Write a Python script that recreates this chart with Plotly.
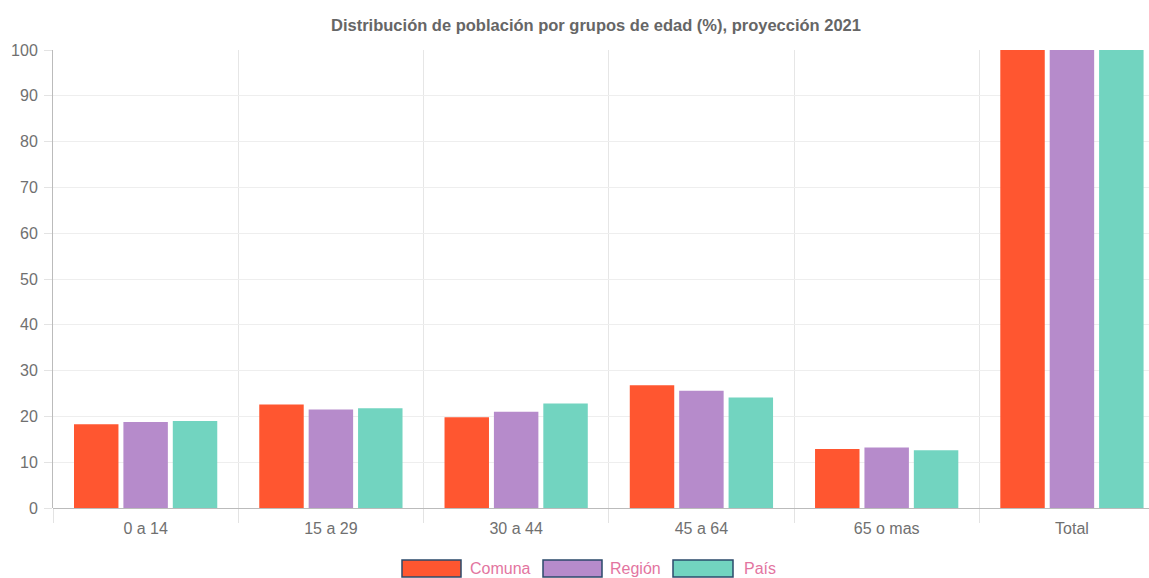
import plotly.graph_objects as go

categories = ["0 a 14", "15 a 29", "30 a 44", "45 a 64", "65 o mas", "Total"]
comuna = [18.3, 22.6, 19.8, 26.8, 12.9, 100]
region = [18.8, 21.5, 21.0, 25.6, 13.2, 100]
pais = [19.0, 21.8, 22.8, 24.1, 12.6, 100]
series_names = ["Comuna", "Región", "País"]
series_colors = ["#FF5630", "#B68BCB", "#72D4C0"]
title_text = "Distribución de población por grupos de edad (%), proyección 2021"
y_ticks = [0, 10, 20, 30, 40, 50, 60, 70, 80, 90, 100]

font_family = "Liberation Sans, Arial, sans-serif"
W, H = 1149, 578
L, T, B = 53, 50, 70
PW, PH = W - L, H - T - B

fig = go.Figure()
for name, vals, col in zip(series_names, [comuna, region, pais], series_colors):
    fig.add_trace(go.Bar(x=categories, y=vals, name=name, marker_color=col,
                         marker_line_width=0, showlegend=False))

# custom legend (wide boxes like the reference)
legend_items = [(402, 461, 468), (543, 602, 608), (673, 733, 742)]
for (x0, x1, tx), name, col in zip(legend_items, series_names, series_colors):
    fig.add_shape(type="rect", xref="paper", yref="paper",
                  x0=(x0 - L) / PW, x1=(x1 - L) / PW,
                  y0=(H - B - 577) / PH, y1=(H - B - 560) / PH,
                  fillcolor=col, line=dict(color="#2B4A6B", width=1.5))
    fig.add_annotation(xref="paper", yref="paper", x=(tx - L) / PW,
                       y=(H - B - 568) / PH, text=name, showarrow=False,
                       xanchor="left", yanchor="middle",
                       font=dict(family=font_family, size=16, color="#E3759F"))

fig.update_layout(
    width=W, height=H,
    margin=dict(l=L, r=0, t=T, b=B, pad=0),
    paper_bgcolor="white", plot_bgcolor="white",
    barmode="group", bargap=0.2, bargroupgap=0.1,
    title=dict(text="<b>" + title_text + "</b>", x=596 / W, xanchor="center",
               y=1 - 25 / H, yanchor="middle",
               font=dict(family=font_family, size=16.5, color="#666666")),
    font=dict(family=font_family, size=16, color="#666666"),
)
fig.update_xaxes(range=[-0.5, 5.416], tickson="boundaries", ticks="outside",
                 ticklen=14, tickcolor="#E3E3E3", showgrid=True,
                 gridcolor="#E6E6E6", gridwidth=1, showline=False,
                 ticklabelstandoff=9,
                 tickfont=dict(size=16, color="#707070"))
fig.update_yaxes(range=[0, 100], tickvals=y_ticks, ticks="outside", ticklen=8,
                 tickcolor="#E3E3E3", showgrid=True, gridcolor="#EEEEEE",
                 zeroline=True, zerolinecolor="#BBBBBB", zerolinewidth=1,
                 showline=True, linecolor="#BBBBBB", linewidth=1,
                 ticklabelstandoff=3,
                 tickfont=dict(size=16, color="#707070"))

fig.write_html("out.html", post_script="document.body.style.margin='0';",
               config={"displayModeBar": False})
